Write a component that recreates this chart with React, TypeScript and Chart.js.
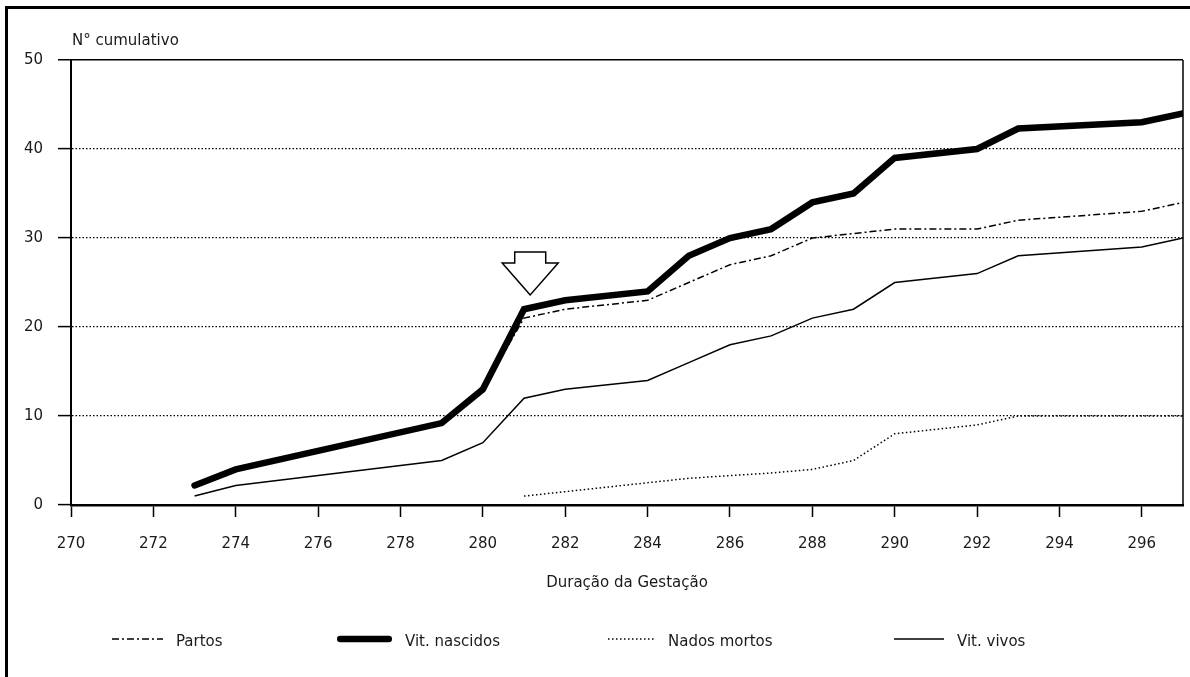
import React, { useEffect, useRef } from "react";
import { Chart, registerables } from "chart.js";

Chart.register(...registerables);

// ---- data ----
const days = [273, 274, 279, 280, 281, 282, 284, 285, 286, 287, 288, 289, 290, 292, 293, 296, 297];
const partos = [2.2, 4, 9.2, 13, 21, 22, 23, 25, 27, 28, 30, 30.5, 31, 31, 32, 33, 34];
const vitNascidos = [2.2, 4, 9.2, 13, 22, 23, 24, 28, 30, 31, 34, 35, 39, 40, 42.3, 43, 44];
const nadosMortos = [null, null, null, null, 1, 1.5, 2.5, 3, 3.3, 3.6, 4, 5, 8, 9, 10, 10, 10];
const vitVivos = [1, 2.2, 5, 7, 12, 13, 14, 16, 18, 19, 21, 22, 25, 26, 28, 29, 30];
const xTicks = [270, 272, 274, 276, 278, 280, 282, 284, 286, 288, 290, 292, 294, 296];
const yTicks = [0, 10, 20, 30, 40, 50];
const seriesLabels = ["Partos", "Vit. nascidos", "Nados mortos", "Vit. vivos"];
const yTitle = "N° cumulativo";
const xTitle = "Duração da Gestação";
const arrowTarget = { x: 281.15, y: 23.6 };

// ---- styling / layout ----
const FONT = '"DejaVu Sans", sans-serif';
const TEXT = "#1a1a1a";
const legendSampleX = [112, 337, 608, 894];
const legendSampleLen = [51, 55, 47, 50];
const LEGEND_Y = 639;

const toPoints = (vals: (number | null)[]) =>
  days.map((d, i) => ({ x: d, y: vals[i] }));

const decor = {
  id: "decor",
  beforeDraw(chart: any) {
    const ctx = chart.ctx;
    ctx.save();
    ctx.fillStyle = "#fff";
    ctx.fillRect(0, 0, chart.width, chart.height);
    ctx.fillStyle = "#000";
    ctx.fillRect(5, 6, 3, chart.height - 6);
    ctx.fillRect(5, 6, chart.width - 5, 3);
    ctx.restore();
  },
  afterDraw(chart: any) {
    const { ctx, chartArea: a, scales } = chart;
    ctx.save();
    // right border of plot
    ctx.strokeStyle = "#000";
    ctx.lineWidth = 1.5;
    ctx.setLineDash([]);
    ctx.beginPath();
    ctx.moveTo(a.right, a.top);
    ctx.lineTo(a.right, a.bottom);
    ctx.stroke();

    // y title
    ctx.font = `15px ${FONT}`;
    ctx.fillStyle = TEXT;
    ctx.textBaseline = "middle";
    ctx.textAlign = "left";
    ctx.fillText(yTitle, a.left + 1, a.top - 19);

    // arrow
    const tx = scales.x.getPixelForValue(arrowTarget.x);
    const ty = scales.y.getPixelForValue(arrowTarget.y);
    ctx.beginPath();
    ctx.moveTo(tx, ty);
    ctx.lineTo(tx - 28, ty - 32);
    ctx.lineTo(tx - 15.5, ty - 32);
    ctx.lineTo(tx - 15.5, ty - 43);
    ctx.lineTo(tx + 15.5, ty - 43);
    ctx.lineTo(tx + 15.5, ty - 32);
    ctx.lineTo(tx + 28, ty - 32);
    ctx.closePath();
    ctx.fillStyle = "#fff";
    ctx.fill();
    ctx.lineWidth = 1.5;
    ctx.lineJoin = "miter";
    ctx.strokeStyle = "#000";
    ctx.stroke();

    // legend
    chart.data.datasets.forEach((ds: any, i: number) => {
      const sx = legendSampleX[i];
      const len = legendSampleLen[i];
      ctx.save();
      ctx.strokeStyle = "#000";
      ctx.lineWidth = ds.borderWidth;
      ctx.lineCap = ds.borderCapStyle || "butt";
      ctx.setLineDash(ds.borderDash || []);
      ctx.beginPath();
      const capPad = ds.borderCapStyle === "round" ? ds.borderWidth / 2 : 0;
      ctx.moveTo(sx + capPad, LEGEND_Y);
      ctx.lineTo(sx + len - capPad, LEGEND_Y);
      ctx.stroke();
      ctx.restore();
      ctx.font = `15px ${FONT}`;
      ctx.fillStyle = TEXT;
      ctx.textBaseline = "middle";
      ctx.textAlign = "left";
      ctx.fillText(ds.label, sx + len + 13, LEGEND_Y + 3);
    });
    ctx.restore();
  },
};

export default function App() {
  const ref = useRef<HTMLCanvasElement | null>(null);

  useEffect(() => {
    document.body.style.margin = "0";
    const canvas = ref.current;
    if (!canvas) return;
    const font = { family: FONT, size: 15 };
    const chart = new Chart(canvas, {
      type: "line",
      data: {
        datasets: [
          {
            label: seriesLabels[0],
            data: toPoints(partos),
            borderColor: "#000",
            borderWidth: 1.5,
            borderDash: [7, 3, 2, 3],
            pointRadius: 0,
            tension: 0,
            fill: false,
            order: 2,
          },
          {
            label: seriesLabels[1],
            data: toPoints(vitNascidos),
            borderColor: "#000",
            borderWidth: 6.5,
            borderCapStyle: "round",
            borderJoinStyle: "miter",
            pointRadius: 0,
            tension: 0,
            fill: false,
            order: 0,
          },
          {
            label: seriesLabels[2],
            data: toPoints(nadosMortos),
            borderColor: "#000",
            borderWidth: 1.5,
            borderDash: [1.5, 2.5],
            pointRadius: 0,
            tension: 0,
            fill: false,
            spanGaps: false,
            order: 3,
          },
          {
            label: seriesLabels[3],
            data: toPoints(vitVivos),
            borderColor: "#000",
            borderWidth: 1.5,
            pointRadius: 0,
            tension: 0,
            fill: false,
            order: 1,
          },
        ] as any,
      },
      options: {
        animation: false,
        responsive: false,
        maintainAspectRatio: false,
        events: [],
        layout: { padding: { top: 60, right: 7, left: 0, bottom: 0 } },
        plugins: {
          legend: { display: false },
          tooltip: { enabled: false },
          title: { display: false },
        },
        scales: {
          x: {
            type: "linear",
            min: 270,
            max: 297,
            afterFit: (s: any) => {
              s.height = 172;
            },
            afterBuildTicks: (s: any) => {
              s.ticks = xTicks.map((v) => ({ value: v }));
            },
            ticks: {
              padding: 18,
              maxRotation: 0,
              autoSkip: false,
              color: TEXT,
              font,
            },
            grid: {
              drawOnChartArea: false,
              drawTicks: true,
              tickLength: 12,
              tickWidth: 1.5,
              tickColor: "#000",
              color: "#000",
              lineWidth: 1,
            },
            border: { display: true, color: "#000", width: 2.5 },
            title: {
              display: true,
              text: xTitle,
              color: TEXT,
              font,
              padding: { top: 0, bottom: 85 },
            },
          },
          y: {
            type: "linear",
            min: 0,
            max: 50,
            afterFit: (s: any) => {
              s.width = 71;
            },
            afterBuildTicks: (s: any) => {
              s.ticks = yTicks.map((v) => ({ value: v }));
            },
            ticks: { padding: 15, color: TEXT, font },
            grid: {
              color: "#000",
              lineWidth: (c: any) => (c.tick && c.tick.value === 50 ? 1.5 : 1.2),
              drawTicks: true,
              tickLength: 13,
              tickWidth: 1.5,
              tickColor: "#000",
              tickBorderDash: [],
            },
            border: {
              display: true,
              color: "#000",
              width: 2,
              dash: (c: any) =>
                c.tick && (c.tick.value === 0 || c.tick.value === 50) ? [] : [1.5, 2],
            },
          },
        },
      } as any,
      plugins: [decor],
    });
    return () => chart.destroy();
  }, []);

  return (
    <div style={{ position: "fixed", left: 0, top: 0, width: 1190, height: 677 }}>
      <canvas ref={ref} width={1190} height={677} style={{ display: "block" }} />
    </div>
  );
}
